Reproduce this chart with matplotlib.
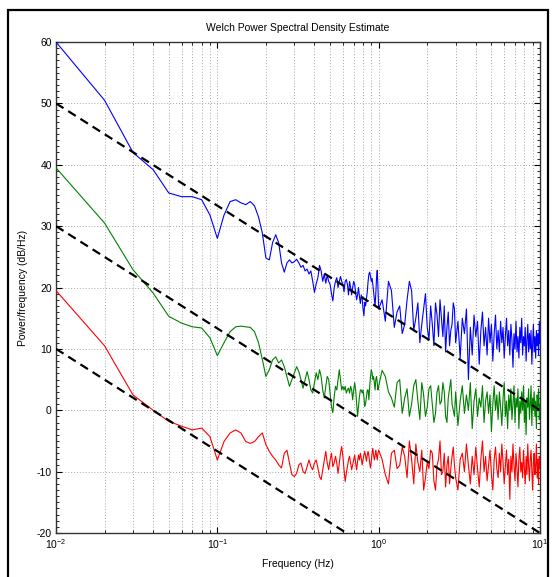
"""
plot.py
Welch PSD estimate of three signals with -5/3 reference slopes (MATLAB look).
"""

import numpy as np
import matplotlib
matplotlib.use("Agg")
import matplotlib.pyplot as plt
from matplotlib.patches import Rectangle
from matplotlib.ticker import LogLocator, MultipleLocator, NullFormatter

plt.rcParams['font.family'] = ['Liberation Sans Narrow', 'Liberation Sans', 'DejaVu Sans']
plt.rcParams['axes.unicode_minus'] = False


# ---------- Data ----------
freq_low = np.round(np.arange(1, 101) * 0.01, 2)      # 0.01 .. 1.00 Hz
freq_mid = np.round(np.arange(1.05, 3.0, 0.1), 2)     # 1.05 .. 2.95 Hz
freq_high = np.round(np.arange(11, 101) * 0.1, 1)     # 1.1 .. 10.0 Hz

blue_low = [
    60, 50.5, 42, 39.2, 35.4, 34.8, 34.8, 34.3, 31.8, 28,
    31.8, 34, 34.3, 33.8, 33.5, 34, 33.3, 31.5, 28.9, 24.8,
    24.5, 27.3, 28.6, 27.3, 24, 22.5, 24, 24.5, 24, 24.2,
    24.6, 24, 23.3, 23.6, 22.7, 23, 22.2, 22.7, 21, 19.2,
    20.6, 21.6, 23.6, 22.7, 21, 22.2, 20.7, 22, 21, 20.5,
    19, 17.8, 20, 21, 21.6, 20, 21, 21.8, 21, 20.5,
    19.3, 21, 21.3, 20.5, 18.8, 21, 20, 18.8, 20, 21,
    20.5, 19.3, 18, 18.8, 20, 18.5, 17.4, 18.8, 18.2, 16.5,
    15.4, 17.6, 17, 18.2, 19.3, 21, 22.2, 22.5, 21.8, 21,
    21.5, 20.5, 19.3, 18.2, 17, 19, 21.5, 22.8, 20, 16.5,
]
blue_mid = [
    18, 21, 13.5, 17, 14, 21, 13, 17.5, 14, 19,
    11.5, 14, 17.5, 12, 15, 17, 13.5, 10.5, 14, 16.5,
]
blue_high = [
    14.5, 19.5, 16, 12.5, 18, 19.5, 15, 11, 16.5, 13.5,
    17, 10.5, 15.5, 18, 12, 9.5, 16, 13, 17.5, 11,
    14.5, 8.5, 15, 12.5, 16.5, 5, 13.5, 9, 15.5, 12,
    14.5, 7.5, 13, 16, 10.5, 13.5, 9, 15, 11, 14,
    8, 12.5, 15.5, 10, 13, 9.5, 14.5, 11, 13.5, 8.5,
    12, 15, 10.5, 13, 9, 14, 11.5, 7, 12.5, 10,
    14.5, 9.5, 12, 8.5, 13.5, 11, 15, 9, 12, 10.5,
    13.5, 8, 11.5, 14, 9.5, 12.5, 10, 13, 7.5, 11,
    14, 9.5, 12, 8.5, 13, 10.5, 12.5, 9, 14.5, 11,
]

green_low = [
    39.5, 30.5, 22.9, 19.1, 15.3, 14.2, 13.6, 13.4, 11.8, 8.9,
    11, 12.8, 13.6, 13.7, 13.6, 13.5, 12.8, 11, 8.3, 5.5,
    6.6, 8.2, 8.7, 7.7, 8.2, 7.1, 5.5, 3.9, 5, 6.1,
    7.1, 6.3, 5, 3.6, 5, 6.3, 5, 3.3, 2.8, 4.5,
    6.1, 5, 6.6, 5.5, 3.3, 2, 3.9, 5.5, 5, 2.8,
    0.6, -0.4, 2.2, 3.9, 3.3, 5, 6.6, 5, 3.3, 3.9,
    3.3, 3.9, 2.8, 3.3, 3.6, 2.8, 3.9, 3.3, 1.7, 3.3,
    4.5, 3.3, 1.1, -1, 0.6, 2.2, 3.3, 3.3, 2.8, 3.3,
    2.2, 0.6, 1.1, 2.2, 3.3, 3.3, 1.7, 3.9, 5.5, 6.6,
    6.1, 5, 5.5, 4.5, 3.3, 5, 5.5, 4.5, 3.3, 3.9,
]
green_mid = [
    6.5, 3, 0.5, 5, 2, -1, 4, 1.5, 4.5, -1,
    3.5, 1, -0.5, 4, 1.5, 3, -2, 3.5, 1, -1,
]
green_high = [
    5.5, 2, 4.5, -0.5, 3.5, 1, 5, -1.5, 2.5, 0.5,
    4, -2, 3, 1, 4.5, -1, 2, 5, 0, 3,
    -2.5, 1.5, 4, -0.5, 2.5, 0, 4.5, -3, 1.5, 3.5,
    -1, 2, 0.5, 4, -2, 1.5, 3, -0.5, 2.5, -3.5,
    1, 4, 0, 2.5, -1.5, 3, 0.5, -2.5, 2, 4.5,
    -1, 1.5, -3, 2.5, 0, 3.5, -1.5, 1, 4, -2,
    2, 0.5, 3.5, -3, 1.5, -0.5, 3, 0, 4, -2,
    1.5, -4, 2, 0.5, 3.5, -1.5, 1, 4, -2.5, 2,
    0, 3, -1, 1.5, -3, 2.5, 0.5, 3.5, -1.5, 1,
]

red_low = [
    19.5, 10.5, 2.5, 0, -1.8, -2.6, -3.2, -2.9, -4.3, -8.1,
    -5.1, -3.7, -3.2, -3.7, -5.1, -5.4, -5.1, -4.3, -3.7, -5.6,
    -6.7, -7.5, -8.1, -8.9, -9.4, -7, -6.5, -8.6, -10.5, -10.8,
    -10.3, -8.9, -8.6, -10, -10.3, -9.2, -8.1, -9.2, -9.7, -8.6,
    -8.1, -9.4, -10.8, -11.3, -9.7, -8.1, -6.7, -8.6, -9.7, -8.1,
    -7, -9.2, -8.6, -7.5, -8.6, -10.3, -8.6, -7, -5.9, -7.5,
    -9.7, -11.6, -10.3, -9.2, -8.1, -7.5, -8.6, -9.7, -8.9, -8.1,
    -7.3, -8.6, -9.7, -8.3, -7.3, -8.1, -7, -7.8, -8.9, -8.1,
    -7.3, -6.7, -7.5, -8.3, -7.3, -6.7, -7.5, -8.6, -9.4, -8.3,
    -7, -6.2, -7.3, -8.1, -7.5, -6.5, -7.3, -8.1, -7, -6.5,
]
red_mid = [
    -8, -12, -6.5, -9, -7.5, -5, -12, -8.5, -6.5, -11,
    -9.5, -7, -13, -8, -10.5, -7, -9, -12, -7.5, -9,
]
red_high = [
    -10.5, -7, -9.5, -6, -11, -8, -5.5, -10, -13, -8.5,
    -6.5, -11.5, -9, -5, -10, -12.5, -7.5, -9.5, -6, -11,
    -13, -8, -7, -10, -5.5, -9, -12, -7.5, -10.5, -6,
    -9.5, -12.5, -8, -5, -10, -7.5, -11.5, -9, -6.5, -10.5,
    -13, -8, -6, -9.5, -11, -7, -10, -5.5, -8.5, -12,
    -9, -6.5, -10.5, -8, -14.5, -7.5, -10, -5.5, -9, -11.5,
    -7, -9.5, -12.5, -8, -6, -10, -8.5, -11, -6.5, -9.5,
    -12, -7.5, -10.5, -5.5, -9, -11.5, -8, -6.5, -10, -13,
    -8.5, -7, -10.5, -9, -5.5, -11, -8, -12, -7.5, -9.5,
]

# -5/3 reference slopes: level at 0.01 Hz and at 10 Hz
ref_freq = [0.01, 10]
ref_start = [50, 30, 10]
ref_end = [0, -20, -40]

series_colors = ['#0000ff', '#008000', '#ff0000']


# ---------- Figure ----------
fig = plt.figure(figsize=(5.56, 5.77), dpi=100)
fig.patch.set_facecolor('white')

# outer frame around the whole picture
fig.add_artist(Rectangle((8 / 556, -0.01), 540 / 556, 1 - 10 / 577 + 0.01,
                         transform=fig.transFigure, fill=False,
                         edgecolor='black', linewidth=1.6))

ax = fig.add_axes([56 / 556, 1 - 533 / 577, 484 / 556, 491 / 577])

freq = np.concatenate([freq_low, freq_mid, freq_high])
order = np.argsort(freq)
curves = [
    np.concatenate([blue_low, blue_mid, blue_high]),
    np.concatenate([green_low, green_mid, green_high]),
    np.concatenate([red_low, red_mid, red_high]),
]
for vals, col in zip(curves, series_colors):
    ax.plot(freq[order], vals[order], color=col, linewidth=0.8, zorder=3)

for y0, y1 in zip(ref_start, ref_end):
    ax.plot(ref_freq, [y0, y1], color='black', linewidth=1.6,
            linestyle=(0, (4, 2.5)), zorder=4)

ax.set_xscale('log')
ax.set_xlim(0.01, 10)
ax.set_ylim(-20, 60)
ax.yaxis.set_major_locator(MultipleLocator(10))
ax.yaxis.set_minor_locator(MultipleLocator(1))
ax.xaxis.set_major_locator(LogLocator(base=10))
ax.xaxis.set_minor_locator(LogLocator(base=10, subs=np.arange(2, 10)))
ax.xaxis.set_minor_formatter(NullFormatter())

ax.grid(True, which='major', axis='both', color='#a8a8a8',
        linestyle=(0, (1, 2)), linewidth=0.7)
ax.grid(True, which='minor', axis='x', color='#a8a8a8',
        linestyle=(0, (1, 2)), linewidth=0.7)

ax.tick_params(which='both', direction='in', top=True, right=True,
               labelsize=7.5, pad=3)
ax.tick_params(which='major', length=4)
ax.tick_params(which='minor', length=2)
for sp in ax.spines.values():
    sp.set_linewidth(1.0)
    sp.set_color('#333333')

ax.set_title('Welch Power Spectral Density Estimate', fontsize=7.5, pad=8)
ax.set_xlabel('Frequency (Hz)', fontsize=7.5, labelpad=6)
ax.set_ylabel('Power/frequency (dB/Hz)', fontsize=7.5, labelpad=6)

fig.savefig('out.png', dpi=100, facecolor='white')
